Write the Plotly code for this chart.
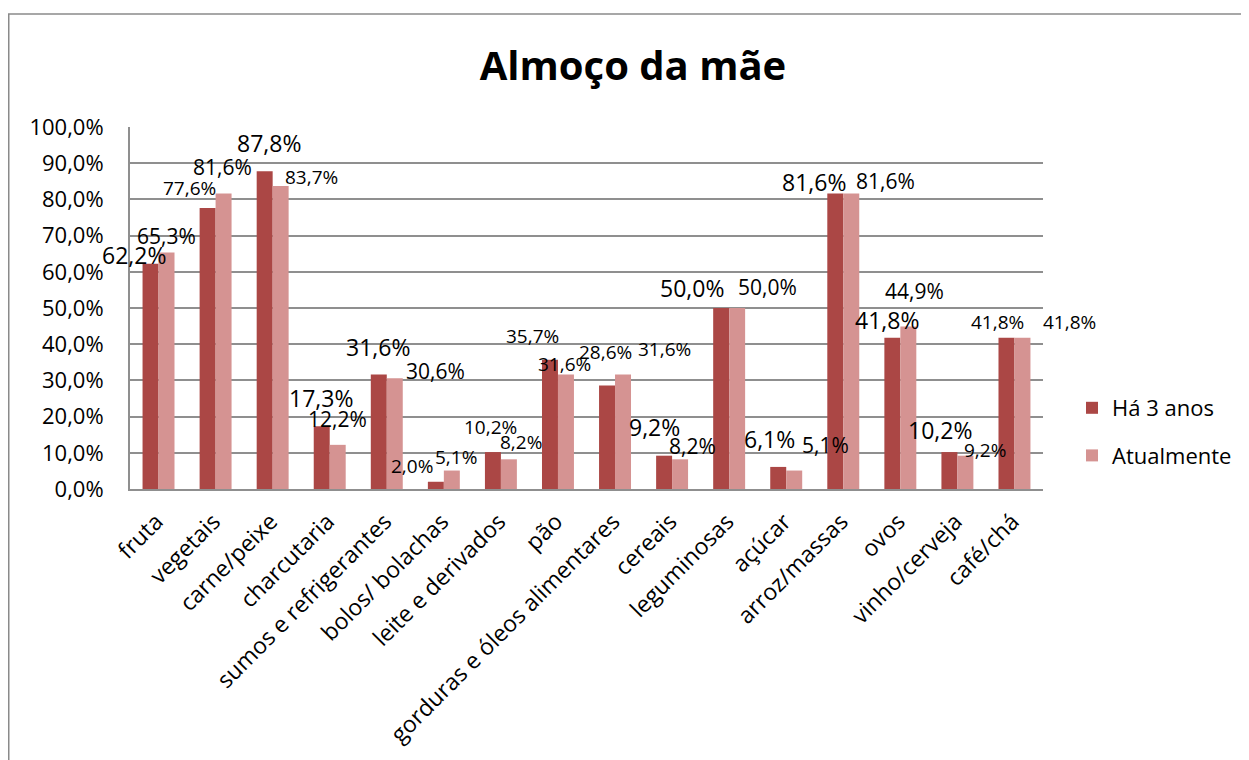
import plotly.graph_objects as go

categories = [
    "fruta", "vegetais", "carne/peixe", "charcutaria", "sumos e refrigerantes",
    "bolos/ bolachas", "leite e derivados", "pão", "gorduras e óleos alimentares",
    "cereais", "leguminosas", "açúcar", "arroz/massas", "ovos", "vinho/cerveja",
    "café/chá",
]
ha_3_anos = [62.2, 77.6, 87.8, 17.3, 31.6, 2.0, 10.2, 35.7, 28.6, 9.2, 50.0, 6.1, 81.6, 41.8, 10.2, 41.8]
atualmente = [65.3, 81.6, 83.7, 12.2, 30.6, 5.1, 8.2, 31.6, 31.6, 8.2, 50.0, 5.1, 81.6, 44.9, 9.2, 41.8]
y_ticks = [0, 10, 20, 30, 40, 50, 60, 70, 80, 90, 100]

# label placement (pixel offsets from bar top / category centre) and size, as in the original
dark_dx = [-25, -26, -4, -9, -9, -32, -10, -25, -10, -18, -37, -17, -29, -13, -17, -17]
dark_dy = [9, 20, 28, 28, 28, 16, 25, 24, 33, 29, 20, 28, 12, 18, 22, 16]
dark_fs = [23, 19, 23, 23, 23, 19, 19, 19, 19, 23, 23, 23, 23, 23, 23, 19]
light_dx = [8, 7, 39, 8, 49, 12, 20, 7, 49, 20, 38, 39, 42, 14, 28, 55]
light_dy = [17, 27, 9, 26, 7, 14, 17, 11, 26, 13, 21, 26, 13, 35, 6, 16]
light_fs = [21, 21, 19, 21, 21, 19, 19, 19, 19, 21, 21, 21, 21, 21, 19, 19]

DARK = "#AB4745"
LIGHT = "#D59392"
GRID = "#8f8f8f"
FONT = "Open Sans"
# page has an 8px body margin, so the figure is drawn 8px smaller and shifted
W, H = 1241, 752
ML, MR, MT, MB = 122, 206, 119, 271


def pct(v):
    return f"{v:.1f}".replace(".", ",") + "%"


fig = go.Figure()
fig.add_trace(go.Bar(x=categories, y=ha_3_anos, name="Há 3 anos",
                     marker=dict(color=DARK, line=dict(width=0)), legendgroup="a"))
fig.add_trace(go.Bar(x=categories, y=atualmente, name="Atualmente",
                     marker=dict(color=LIGHT, line=dict(width=0)), legendgroup="b"))

annotations = []
for i, cat in enumerate(categories):
    annotations.append(dict(x=cat, y=ha_3_anos[i], xref="x", yref="y", text=pct(ha_3_anos[i]),
                            showarrow=False, xshift=dark_dx[i], yshift=dark_dy[i],
                            xanchor="center", yanchor="middle",
                            font=dict(family=FONT, size=dark_fs[i], color="black")))
    annotations.append(dict(x=cat, y=atualmente[i], xref="x", yref="y", text=pct(atualmente[i]),
                            showarrow=False, xshift=light_dx[i], yshift=light_dy[i],
                            xanchor="center", yanchor="middle",
                            font=dict(family=FONT, size=light_fs[i], color="black")))

pw = W - ML - MR
ph = H - MT - MB
frame = dict(type="rect", xref="paper", yref="paper",
             x0=(0.75 - ML) / pw, x1=(W + 20 - ML) / pw,
             y0=-(MB + 20) / ph, y1=(H - MB - 6) / ph,
             line=dict(color="#8a8a8a", width=1.5), fillcolor="rgba(0,0,0,0)", layer="below")

fig.update_layout(
    width=W, height=H,
    margin=dict(l=ML, r=MR, t=MT, b=MB),
    paper_bgcolor="white", plot_bgcolor="white",
    separators=",.",
    barmode="group", bargap=0.44, bargroupgap=0,
    font=dict(family=FONT, size=21, color="black"),
    title=dict(text="<b>Almoço da mãe</b>", x=625 / W, xanchor="center",
               y=(H - 58) / H, yanchor="middle", xref="container", yref="container",
               font=dict(family=FONT, size=40, color="black")),
    legend=dict(x=(1064 - ML) / pw, y=(H - MB - 379) / ph, xanchor="left", yanchor="top",
                font=dict(family=FONT, size=22), traceorder="grouped", tracegroupgap=16,
                bgcolor="rgba(0,0,0,0)"),
    annotations=annotations,
    shapes=[frame],
)
fig.update_yaxes(range=[0, 100], tickvals=y_ticks, ticktext=[pct(t) for t in y_ticks],
                 showgrid=True, gridcolor=GRID, gridwidth=2,
                 showline=True, linecolor=GRID, linewidth=2,
                 ticks="", ticklabelstandoff=20, tickfont=dict(size=22), zeroline=False)
fig.update_xaxes(range=[-0.5, len(categories) - 0.5], tickangle=-45,
                 showline=True, linecolor=GRID, linewidth=2,
                 ticks="", tickfont=dict(size=23), ticklabelstandoff=8, ticklabelshift=-2)

fig.write_html("out.html")
